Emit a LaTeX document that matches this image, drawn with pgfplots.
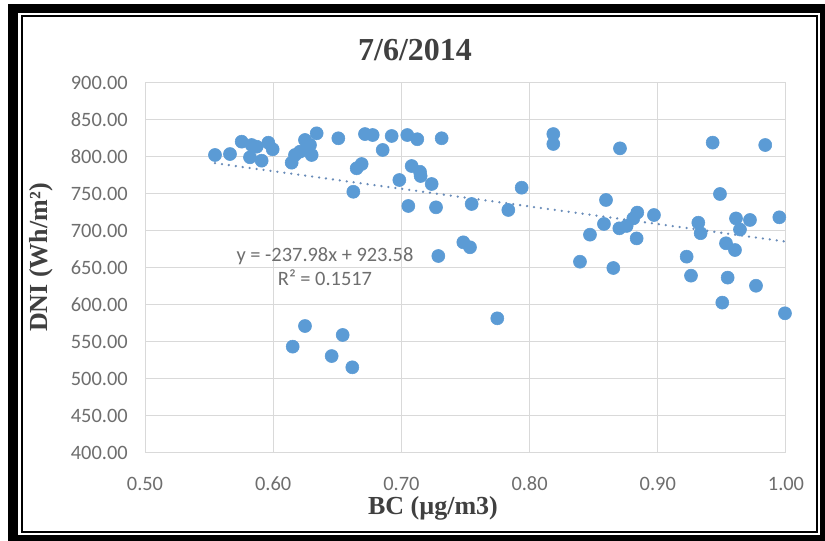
\documentclass[border=0pt]{standalone}
\usepackage{pgfplots}
\pgfplotsset{compat=1.18}
\usepackage{fontspec}
\setmainfont{Liberation Serif}
\newfontfamily\calfont{Carlito}
\definecolor{dotblue}{RGB}{91,155,213}
\definecolor{trendblue}{RGB}{105,140,185}
\definecolor{tickgray}{RGB}{110,110,110}
\definecolor{gridgray}{RGB}{217,217,217}
\definecolor{titlegray}{RGB}{64,64,64}
\begin{document}
\begin{tikzpicture}
\useasboundingbox (0,0) rectangle (618.75pt,405.75pt);
\fill[black] (6pt,0pt) rectangle (618.75pt,402.75pt);
\fill[white] (13.5pt,4.5pt) rectangle (615pt,396pt);
\draw[black,line width=1.5pt] (16.5pt,6.75pt) rectangle (612.75pt,393.75pt);
\begin{axis}[
  at={(108.75pt,66pt)}, anchor=south west,
  scale only axis, width=480.75pt, height=277.5pt,
  xmin=0.5, xmax=1.0, ymin=400, ymax=900,
  xtick={0.5,0.6,0.7,0.8,0.9,1.0},
  ytick={400,450,500,550,600,650,700,750,800,850,900},
  grid=major, grid style={draw=gridgray, line width=0.75pt},
  axis line style={draw=gridgray, line width=0.75pt},
  major tick length=0pt, tick style={draw=none},
  /pgf/number format/.cd, fixed, fixed zerofill, precision=2, assume math mode=true, 1000 sep={},
  /pgfplots/.cd,
  ticklabel style={font=\calfont\fontsize{15.3}{18}\selectfont, text=tickgray, inner sep=0pt},
  xticklabel style={anchor=center, yshift=-22.9pt},
  yticklabel style={anchor=east, xshift=-12.75pt},
  clip=false,
]
\addplot[only marks, mark=*, mark size=4.9pt, mark options={fill=dotblue, draw=dotblue}] coordinates {
(0.5546,802.7) (0.5663,804) (0.5754,820.7) (0.5819,799.6) (0.5832,816.2)
(0.5871,813.9) (0.5910,795) (0.5962,819.3) (0.5996,810.4) (0.6144,792.3)
(0.6170,802.7) (0.6209,807.2) (0.6248,823) (0.6287,816.2) (0.6300,802.7)
(0.6339,832) (0.6508,825.3) (0.6651,784.7) (0.6690,790.5) (0.6625,753)
(0.6716,831) (0.6776,829.7) (0.6854,809.5) (0.6924,828.4) (0.7046,829.7)
(0.7124,824) (0.7314,825.3) (0.6984,768.9) (0.7080,787.8) (0.7145,780)
(0.7150,774.3) (0.7236,763.5) (0.7054,733.8) (0.7270,732) (0.7548,736.5)
(0.7834,728.4) (0.7938,758.5) (0.8185,831) (0.8185,817.6) (0.7483,684.7)
(0.7535,678) (0.7288,666.2) (0.8393,658.5) (0.8471,695) (0.8705,811.7)
(0.9428,819.4) (0.9838,816.2) (0.8596,741.9) (0.9485,750) (0.8580,709.5)
(0.8653,650) (0.8700,703.6) (0.8757,706.8) (0.8809,717) (0.8840,724.9)
(0.8835,690) (0.8970,721.6) (0.9316,711.2) (0.9334,697) (0.9225,665.3)
(0.9610,717) (0.9641,702) (0.9719,714.9) (0.9948,718.5) (0.9532,683.4)
(0.9602,674.3) (0.9259,639.6) (0.9545,637) (0.9766,626) (0.9503,603.2)
(0.9992,588.8) (0.6248,571.6) (0.6152,543.7) (0.6542,559.5) (0.6456,531)
(0.6617,515.8) (0.7748,582)
};
\addplot[no marks, draw=trendblue, line width=1.9pt, line cap=round, dash pattern=on 0pt off 5.25pt] coordinates {
(0.5546,791.60) (0.9992,685.79)
};
\end{axis}
\node[font=\bfseries\fontsize{24}{28}\selectfont, text=titlegray] at (311.25pt,368.25pt) {7/6/2014};
\node[font=\bfseries\fontsize{19.5}{23}\selectfont, text=titlegray] at (324.75pt,24.75pt) {BC (µg/m3)};
\node[font=\bfseries\fontsize{19.5}{23}\selectfont, text=titlegray, rotate=90] at (30.75pt,212.6pt) {DNI (Wh/m²)};
\node[font=\calfont\fontsize{15.3}{18}\selectfont, text=tickgray, inner sep=0pt] at (243.75pt,213.75pt) {y = -237.98x + 923.58};
\node[font=\calfont\fontsize{15.3}{18}\selectfont, text=tickgray, inner sep=0pt] at (243.75pt,197.25pt) {R² = 0.1517};
\end{tikzpicture}
\end{document}
